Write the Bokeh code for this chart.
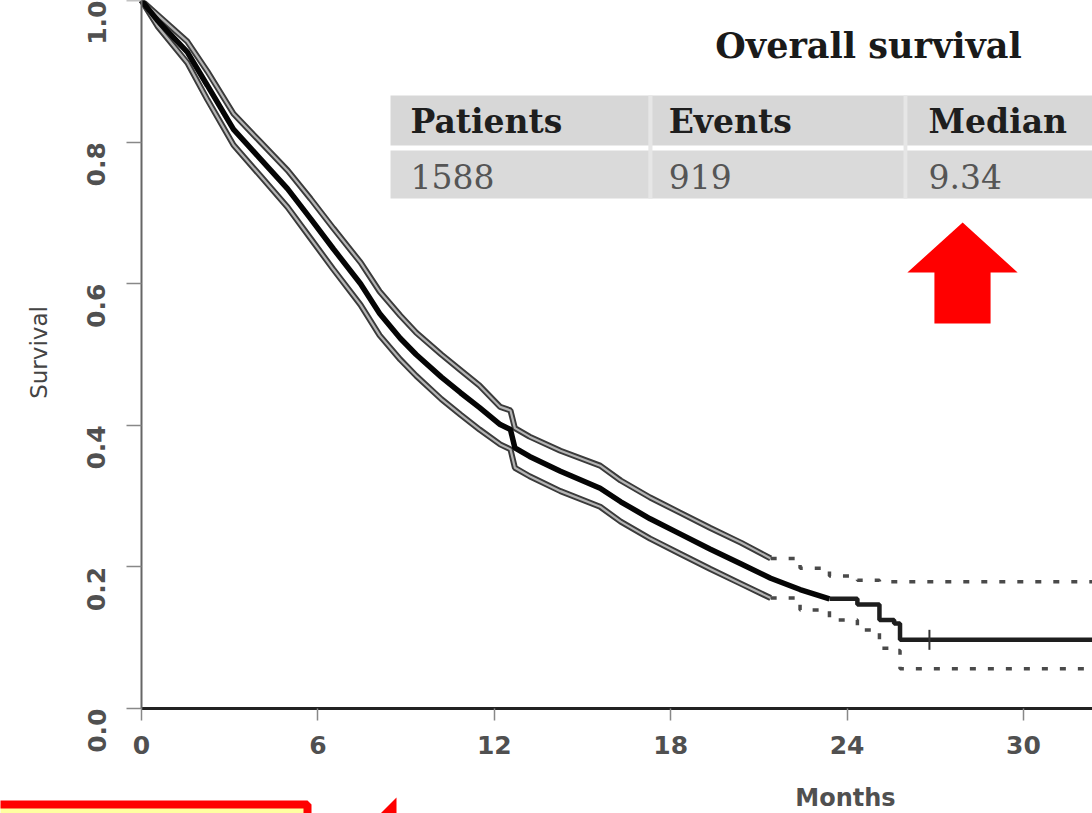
import math
from bokeh.plotting import figure
from bokeh.models import (Range1d, FixedTicker, PrintfTickFormatter, Label,
                          BoxAnnotation, PolyAnnotation)
from bokeh.embed import file_html
from bokeh.resources import INLINE

# ---- data ----
months = [0, 0.54, 1.56, 2.24, 3.13, 4.05, 4.97, 5.75, 6.53, 7.45, 8.1, 8.8, 9.34,
          10.2, 10.85, 11.5, 12.2, 12.55, 12.7, 13.2, 14.25, 15.6, 16.3, 17.3,
          18.3, 19.35, 20.4, 21.4, 22.4, 23.4, 24.35, 25.1, 25.6, 25.8, 32.5]
surv = [1.0, 0.972, 0.927, 0.88, 0.818, 0.776, 0.734, 0.692, 0.649, 0.600, 0.558,
        0.523, 0.50, 0.468, 0.446, 0.425, 0.401, 0.394, 0.368, 0.356, 0.335, 0.311,
        0.292, 0.268, 0.247, 0.225, 0.204, 0.184, 0.168, 0.155, 0.147, 0.125,
        0.12, 0.097, 0.097]
upper = [1.0, 0.98, 0.942, 0.90, 0.84, 0.80, 0.76, 0.72, 0.678, 0.630, 0.589,
         0.555, 0.531, 0.50, 0.478, 0.456, 0.426, 0.421, 0.396, 0.384, 0.364,
         0.343, 0.322, 0.298, 0.277, 0.255, 0.234, 0.212, 0.198, 0.187, 0.181,
         0.179, 0.179, 0.179, 0.179]
lower = [1.0, 0.964, 0.912, 0.86, 0.796, 0.752, 0.708, 0.664, 0.62, 0.570, 0.527,
         0.493, 0.47, 0.437, 0.415, 0.394, 0.373, 0.366, 0.34, 0.328, 0.307,
         0.285, 0.264, 0.24, 0.219, 0.197, 0.176, 0.156, 0.139, 0.125, 0.111,
         0.085, 0.082, 0.056, 0.054]
censor_months = [26.8]
censor_surv = [0.097]

x_ticks = [0, 6, 12, 18, 24, 30]
y_ticks = [0.0, 0.2, 0.4, 0.6, 0.8, 1.0]

table_title = "Overall survival"
table_headers = ["Patients", "Events", "Median"]
table_values = ["1588", "919", "9.34"]

# ---- figure: the frame fills the page, axes sit at the data origin ----
PX_X = 29.4     # pixels per month
PX_Y = 708.0    # pixels per unit of survival
p = figure(width=1092, height=813,
           x_range=Range1d(-141 / PX_X, 951 / PX_X),
           y_range=Range1d(-105 / PX_Y, 1.0),
           output_backend="svg", toolbar_location=None,
           min_border_left=0, min_border_bottom=0, min_border_top=0, min_border_right=0)
p.outline_line_color = None
p.xgrid.visible = False
p.ygrid.visible = False
p.background_fill_color = "white"
p.border_fill_color = "white"

p.xaxis.fixed_location = 0
p.yaxis.fixed_location = 0
p.xaxis.bounds = (0, 40)
p.yaxis.bounds = (0, 1.0)
p.xaxis.ticker = FixedTicker(ticks=x_ticks)
p.yaxis.ticker = FixedTicker(ticks=y_ticks)
p.yaxis.formatter = PrintfTickFormatter(format="%.1f")
p.yaxis.major_label_orientation = math.pi / 2
for ax in (p.xaxis, p.yaxis):
    ax.minor_tick_line_color = None
    ax.major_tick_in = 0
    ax.major_tick_line_color = "#888888"
    ax.major_tick_line_width = 1.5
    ax.major_label_text_font = "DejaVu Sans"
    ax.major_label_text_font_style = "bold"
    ax.major_label_text_font_size = "25px"
    ax.major_label_text_color = "#505050"
p.xaxis.major_tick_out = 12
p.yaxis.major_tick_out = 15
p.xaxis.axis_line_color = "#222222"
p.xaxis.axis_line_width = 3
p.yaxis.axis_line_color = "#666666"
p.yaxis.axis_line_width = 2
p.xaxis.major_label_standoff = 15
p.yaxis.major_label_standoff = 30

i21 = months.index(21.4)
i23 = months.index(23.4)

# confidence bands
for ys in (upper, lower):
    p.line(months[:i21 + 1], ys[:i21 + 1], line_color="#3a3a3a", line_width=6)
    p.line(months[:i21 + 1], ys[:i21 + 1], line_color="#b4b4b4", line_width=2.2)
    p.step(months[i21:], ys[i21:], mode="after", line_color="#4a4a4a",
           line_width=3.5, line_dash="6 12")

# survival curve
p.line(months[:i23 + 1], surv[:i23 + 1], line_color="#050505", line_width=5.5)
p.step(months[i23:], surv[i23:], mode="after", line_color="#1e1e1e", line_width=4.5)
p.scatter(censor_months, censor_surv, marker="dash", angle=math.pi / 2, size=20,
          line_color="#333333", line_width=2)

# axis titles
p.add_layout(Label(x=(845 - 141) / PX_X, y=(708 - 797) / PX_Y, text="Months",
                   text_font="DejaVu Sans", text_font_style="bold",
                   text_font_size="24px", text_color="#505050",
                   text_align="center", text_baseline="middle"))
p.add_layout(Label(x=(38 - 141) / PX_X, y=(708 - 352) / PX_Y, text="Survival",
                   text_font="DejaVu Sans", text_font_size="23px", text_color="#444444",
                   angle=math.pi / 2, text_align="center", text_baseline="middle"))

# table
p.add_layout(BoxAnnotation(left=8.47, right=40, top=0.8658, bottom=0.7952,
                           fill_color="#d7d7d7", fill_alpha=1, line_color=None))
p.add_layout(BoxAnnotation(left=8.47, right=40, top=0.788, bottom=0.7203,
                           fill_color="#dadada", fill_alpha=1, line_color=None))
for l, r in ((17.24, 17.38), (25.92, 26.05)):
    p.add_layout(BoxAnnotation(left=l, right=r, top=0.8658, bottom=0.7203,
                               fill_color="#e6e6e6", fill_alpha=1, line_color=None))
p.add_layout(Label(x=24.73, y=0.9364, text=table_title, text_font="DejaVu Serif",
                   text_font_style="bold", text_font_size="35px", text_color="#1a1a1a",
                   text_align="center", text_baseline="middle"))
col_x = [9.15, 17.93, 26.77]
for cx, h, v in zip(col_x, table_headers, table_values):
    p.add_layout(Label(x=cx, y=0.829, text=h, text_font="DejaVu Serif",
                       text_font_style="bold", text_font_size="33px", text_color="#1e1e1e",
                       text_align="left", text_baseline="middle"))
    p.add_layout(Label(x=cx, y=0.7514, text=v, text_font="DejaVu Serif",
                       text_font_size="33px", text_color="#555555",
                       text_align="left", text_baseline="middle"))

# red arrow pointing at the median
p.add_layout(PolyAnnotation(xs=[26.05, 27.93, 29.80, 28.88, 28.88, 26.97, 26.97],
                            ys=[0.6158, 0.6864, 0.6158, 0.6158, 0.5438, 0.5438, 0.6158],
                            fill_color="#ff0000", fill_alpha=1, line_color=None))

# cut-off red box and arrow at the bottom edge
p.add_layout(BoxAnnotation(left=-6, right=(307 - 141) / PX_X,
                           top=(708 - 804) / PX_Y, bottom=-0.3,
                           fill_color="#ffffa0", fill_alpha=1, line_color="#ff0000",
                           line_alpha=1, line_width=8))
p.add_layout(PolyAnnotation(xs=[(363 - 141) / PX_X, (396 - 141) / PX_X, (396 - 141) / PX_X],
                            ys=[(708 - 830) / PX_Y, (708 - 797) / PX_Y, (708 - 830) / PX_Y],
                            fill_color="#ff0000", fill_alpha=1, line_color=None))

open("out.html", "w").write(file_html(p, INLINE))
